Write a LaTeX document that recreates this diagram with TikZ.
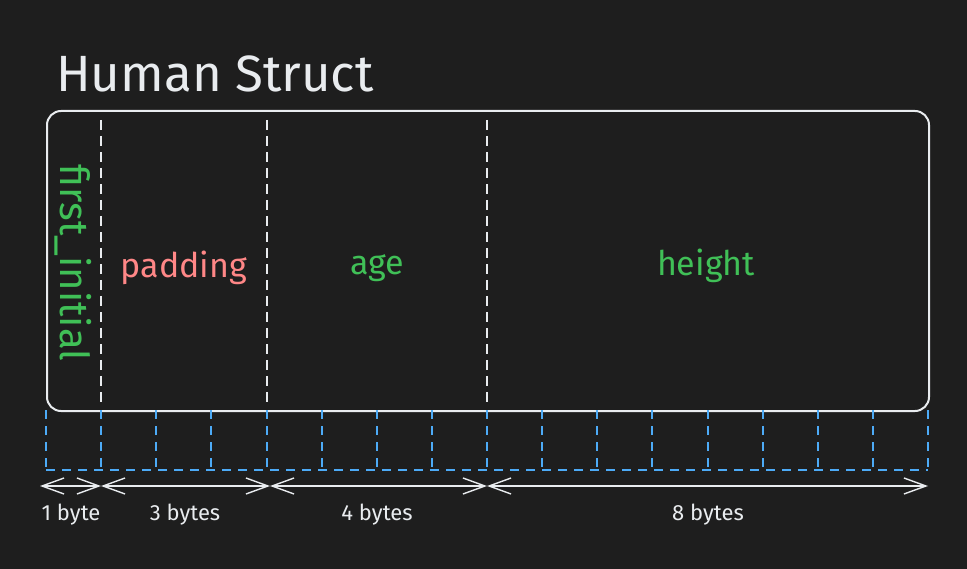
\documentclass[tikz,border=0pt]{standalone}
\usepackage{fontspec}
\setmainfont{Fira Sans}
\usetikzlibrary{arrows.meta}
\definecolor{bg}{HTML}{1E1E1E}
\definecolor{fg}{HTML}{E9ECEF}
\definecolor{grn}{HTML}{40C057}
\definecolor{pnk}{HTML}{FF8787}
\definecolor{blu}{HTML}{4DABF7}
\tikzset{
  sep/.style={fg, line width=2pt, dash pattern=on 10pt off 6pt},
  grid/.style={blu, line width=2pt, dash pattern=on 9pt off 7pt},
  dim/.style={fg, line width=1.4pt, {Straight Barb[length=22pt,width=16pt]}-{Straight Barb[length=22pt,width=16pt]}},
  dimlbl/.style={fg, font=\fontsize{22}{26}\selectfont},
  field/.style={font=\fontsize{34}{40}\selectfont}
}
\begin{document}
\begin{tikzpicture}[x=1pt,y=-1pt]
\fill[bg] (0,0) rectangle (967,569);
\useasboundingbox (0,0) rectangle (967,569);
% title
\node[fg, font=\fontsize{51}{58}\selectfont, anchor=west, inner sep=0pt] (title) at (56,74) {Human Struct};
% struct box
\node[draw=fg, line width=2pt, rounded corners=14pt, minimum width=882pt, minimum height=300pt, inner sep=0pt, anchor=north west] (box) at (46,110) {};
% separators
\foreach \x/\n in {101/a,267/b,487/c}{
  \coordinate (s\n t) at (\x,120);
  \coordinate (s\n b) at (\x,402);
  \draw[sep] (s\n t) -- (s\n b);
}
% fields
\node[grn, font=\fontsize{40}{46}\selectfont, rotate=-90] (fi) at (73,263) {first\_initial};
\node[pnk, field] (pad) at (184,268) {padding};
\node[grn, field] (age) at (377,268) {age};
\node[grn, field] (hgt) at (706,266) {height};
% byte grid
\foreach \i in {0,...,16}{
  \pgfmathtruncatemacro{\xx}{46+\i*55.125+0.5}
  \coordinate (g\i t) at (\xx,410);
  \coordinate (g\i b) at (\xx,470);
  \draw[grid] (g\i t) -- (g\i b);
}
\draw[grid] (g0b) -- (g16b);
% dimension arrows
\coordinate (d0) at (40,486);
\coordinate (d1) at (101,486);
\coordinate (d2) at (270,486);
\coordinate (d3) at (487,486);
\coordinate (d4) at (928,486);
\draw[dim] (d0) -- (d1);
\draw[dim] (d1) -- (d2);
\draw[dim] (d2) -- (d3);
\draw[dim] (d3) -- (d4);
\node[dimlbl] (l1) at (71,515) {1 byte};
\node[dimlbl] (l2) at (185,515) {3 bytes};
\node[dimlbl] (l3) at (377,515) {4 bytes};
\node[dimlbl] (l4) at (708,515) {8 bytes};
\end{tikzpicture}
\end{document}
